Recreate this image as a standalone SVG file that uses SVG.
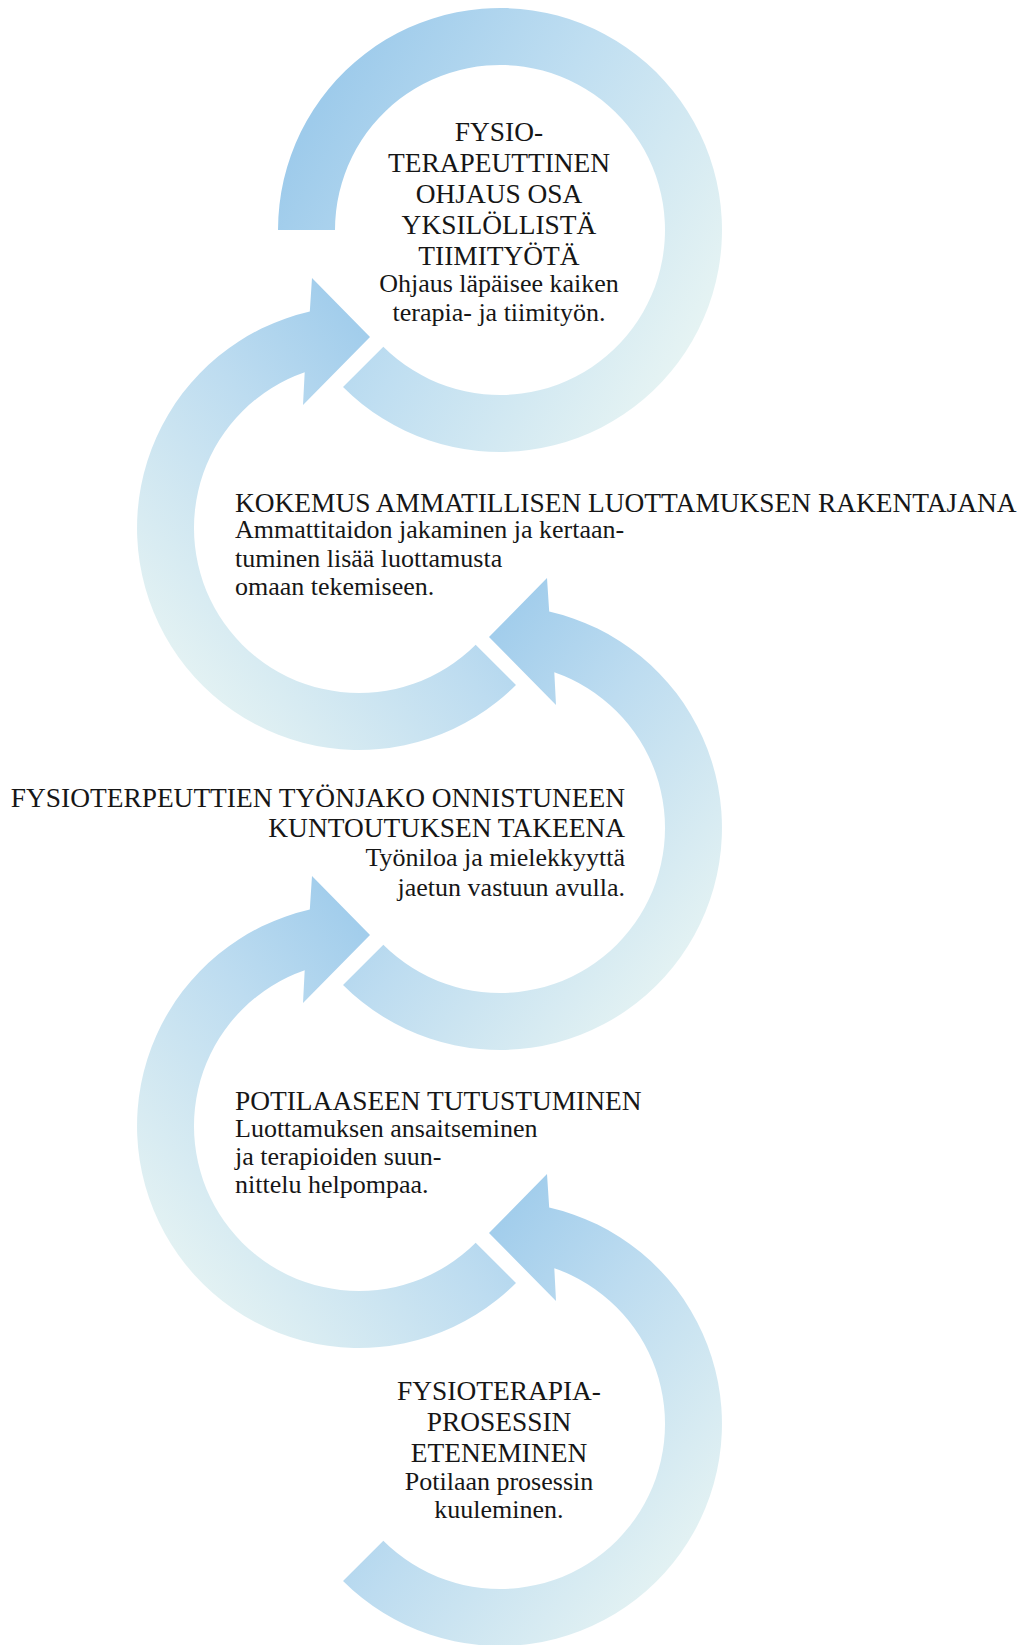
<svg xmlns="http://www.w3.org/2000/svg" xmlns:xlink="http://www.w3.org/1999/xlink" width="1030" height="1645" viewBox="0 0 1030 1645">
<style>
text{font-family:"Liberation Serif","Times New Roman",serif;fill:#161616}
.h{font-size:27.4px}
.b{font-size:26px}
.c{text-anchor:middle}
.r{text-anchor:end}
</style>
<defs>
<linearGradient id="gA" x1="0.05" y1="0.3" x2="0.9" y2="0.8">
<stop offset="0" stop-color="#9ecbeb"/>
<stop offset="0.45" stop-color="#bfdef1"/>
<stop offset="1" stop-color="#e5f3f3"/>
</linearGradient>
<linearGradient id="gB" x1="0.75" y1="0.2" x2="0.1" y2="0.85">
<stop offset="0" stop-color="#9ecbeb"/>
<stop offset="0.4" stop-color="#bddcf0"/>
<stop offset="1" stop-color="#e5f3f3"/>
</linearGradient>
<path id="ringA" fill="url(#gA)" d="M -222 0 A 222 222 0 1 1 -156.98 156.98 L -116.67 116.67 A 165 165 0 1 0 -165 0 Z"/>
<path id="ringB" fill="url(#gB)" d="M 156.98 156.98 A 222 222 0 1 1 -49.2 -216.5 L -47 -250 L 11 -191 L -56 -123 L -54.3 -155.8 A 165 165 0 1 0 116.67 116.67 Z"/>
</defs>
<rect width="1030" height="1645" fill="#ffffff"/>
<g id="connectors">
<use xlink:href="#ringA" href="#ringA" transform="translate(500,230)"/>
<use xlink:href="#ringB" href="#ringB" transform="translate(359,528)"/>
<use xlink:href="#ringB" href="#ringB" transform="translate(500,828) scale(-1,1)"/>
<use xlink:href="#ringB" href="#ringB" transform="translate(359,1126)"/>
<use xlink:href="#ringB" href="#ringB" transform="translate(500,1424) scale(-1,1)"/>
</g>
<g id="node1">
<text class="h c" x="499" y="141">FYSIO-</text>
<text class="h c" x="499" y="172">TERAPEUTTINEN</text>
<text class="h c" x="499" y="203">OHJAUS OSA</text>
<text class="h c" x="499" y="234">YKSILÖLLISTÄ</text>
<text class="h c" x="499" y="265">TIIMITYÖTÄ</text>
<text class="b c" x="499" y="292">Ohjaus läpäisee kaiken</text>
<text class="b c" x="499" y="321">terapia- ja tiimityön.</text>
</g>
<g id="node2">
<text class="h" x="235" y="512">KOKEMUS AMMATILLISEN LUOTTAMUKSEN RAKENTAJANA</text>
<text class="b" x="235" y="538">Ammattitaidon jakaminen ja kertaan-</text>
<text class="b" x="235" y="567">tuminen lisää luottamusta</text>
<text class="b" x="235" y="595">omaan tekemiseen.</text>
</g>
<g id="node3">
<text class="h r" x="625" y="807">FYSIOTERPEUTTIEN TYÖNJAKO ONNISTUNEEN</text>
<text class="h r" x="625" y="837">KUNTOUTUKSEN TAKEENA</text>
<text class="b r" x="625" y="866">Työniloa ja mielekkyyttä</text>
<text class="b r" x="625" y="896">jaetun vastuun avulla.</text>
</g>
<g id="node4">
<text class="h" x="235" y="1110">POTILAASEEN TUTUSTUMINEN</text>
<text class="b" x="235" y="1137">Luottamuksen ansaitseminen</text>
<text class="b" x="235" y="1165">ja terapioiden suun-</text>
<text class="b" x="235" y="1193">nittelu helpompaa.</text>
</g>
<g id="node5">
<text class="h c" x="499" y="1400">FYSIOTERAPIA-</text>
<text class="h c" x="499" y="1431">PROSESSIN</text>
<text class="h c" x="499" y="1462">ETENEMINEN</text>
<text class="b c" x="499" y="1490">Potilaan prosessin</text>
<text class="b c" x="499" y="1518">kuuleminen.</text>
</g>
</svg>
